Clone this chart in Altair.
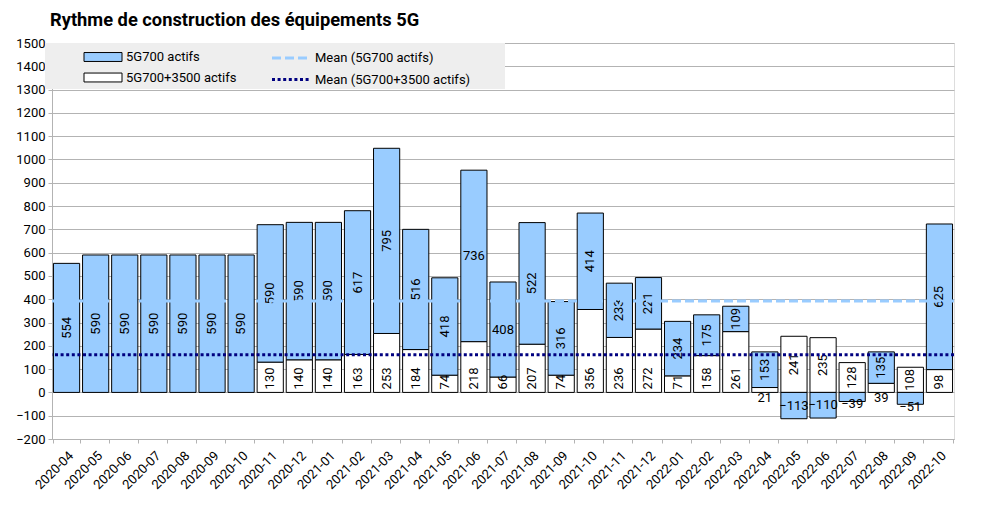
import altair as alt
import pandas as pd

# ---------------- data ----------------
months = [
    "2020-04", "2020-05", "2020-06", "2020-07", "2020-08", "2020-09", "2020-10",
    "2020-11", "2020-12", "2021-01", "2021-02", "2021-03", "2021-04", "2021-05",
    "2021-06", "2021-07", "2021-08", "2021-09", "2021-10", "2021-11", "2021-12",
    "2022-01", "2022-02", "2022-03", "2022-04", "2022-05", "2022-06", "2022-07",
    "2022-08", "2022-09", "2022-10",
]
actifs_5g700 = [
    554, 590, 590, 590, 590, 590, 590,
    590, 590, 590, 617, 795, 516, 418,
    736, 408, 522, 316, 414, 233, 221,
    234, 175, 109, 153, -113, -110, -39,
    135, -51, 625,
]
actifs_5g700_3500 = [
    None, None, None, None, None, None, None,
    130, 140, 140, 163, 253, 184, 74,
    218, 66, 207, 74, 356, 236, 272,
    71, 158, 261, 21, 241, 235, 128,
    39, 108, 98,
]
y_ticks = list(range(-200, 1501, 100))

S700 = "5G700 actifs"
S3500 = "5G700+3500 actifs"
M700 = "Mean (5G700 actifs)"
M3500 = "Mean (5G700+3500 actifs)"

# months whose blue label is written horizontally in the reference
HORIZONTAL = {"2021-06", "2021-07"}

# ---------------- tables ----------------
wide = pd.DataFrame({"month": months, "v700": actifs_5g700, "v3500": actifs_5g700_3500})

rows = []
for m, b, w in zip(months, actifs_5g700, actifs_5g700_3500):
    base = 0 if w is None else w
    if w is not None:
        if b < 0:
            mode = "rot_mid"
        elif w < 50:
            mode = "below0"
        else:
            mode = "rot_bottom"
        rows.append(dict(month=m, series=S3500, value=w, lo=0, hi=w, mode=mode))
    if b >= 0:
        lo, hi = base, base + b
        mode = "horiz" if m in HORIZONTAL else "rot_mid"
    else:
        lo, hi = 0, b
        mode = "horiz" if b <= -100 else "below_neg"
    rows.append(dict(month=m, series=S700, value=b, lo=lo, hi=hi, mode=mode))
bars_df = pd.DataFrame(rows)
bars_df["mid"] = (bars_df["lo"] + bars_df["hi"]) / 2

FONT = "Roboto"

x_axis = alt.Axis(
    title=None, labelAngle=-45, labelAlign="right", labelBaseline="top",
    labelFontSize=13, labelFont=FONT, labelColor="black", labelPadding=6,
    tickBand="extent", tickSize=4, tickColor="#b3b3b3", domainColor="#b3b3b3",
    grid=False, labelOverlap=False,
)
x_scale = alt.Scale(paddingInner=0.1, paddingOuter=0.05)
y_scale = alt.Scale(domain=[-200, 1500], nice=False, zero=False)
y_axis = alt.Axis(
    title=None, values=y_ticks, format="d", labelOverlap=False, labelFlush=False,
    labelFontSize=13, labelFont=FONT, labelColor="black",
    tickSize=4, tickColor="#b3b3b3", domainColor="#b3b3b3", gridColor="#b3b3b3",
    labelPadding=3, grid=True,
)


def X():
    return alt.X("month:N", sort=months, scale=x_scale, axis=x_axis)


def Y(field):
    return alt.Y(field, scale=y_scale, axis=y_axis)


base = alt.Chart(bars_df)

bars = base.mark_bar(stroke="black", strokeWidth=1).encode(
    x=X(),
    y=Y("lo:Q"),
    y2="hi:Q",
    fill=alt.Fill(
        "series:N",
        scale=alt.Scale(domain=[S700, S3500], range=["#99ccff", "#ffffff"]),
        legend=alt.Legend(
            orient="none", legendX=-7, legendY=0, direction="vertical",
            symbolType="M-2,-0.47H2V0.47H-2Z", symbolSize=361,
            symbolStrokeColor="black", symbolStrokeWidth=1, symbolOffset=44,
            labelFontSize=13, labelFont=FONT, labelColor="black", labelOffset=13,
            padding=4, rowPadding=3.5, fillColor="#eeeeee",
            title=".", titleOrient="right", titleColor="#eeeeee", titlePadding=262,
            titleFontSize=8, zindex=1,
        ),
    ),
    order=alt.Order("series:N", sort="descending"),
)

txt_props = dict(fontSize=13, font=FONT, color="black")

lab_rot_mid = base.transform_filter(alt.datum.mode == "rot_mid").mark_text(
    angle=270, align="center", baseline="middle", **txt_props
).encode(x=X(), y=Y("mid:Q"), text=alt.Text("value:Q", format="d"))

lab_rot_bottom = base.transform_filter(alt.datum.mode == "rot_bottom").mark_text(
    angle=270, align="left", baseline="middle", yOffset=-3, **txt_props
).encode(x=X(), y=Y("lo:Q"), text=alt.Text("value:Q", format="d"))

lab_horiz = base.transform_filter(alt.datum.mode == "horiz").mark_text(
    align="center", baseline="middle", **txt_props
).encode(x=X(), y=Y("mid:Q"), text=alt.Text("value:Q", format="d"))

lab_below_neg = base.transform_filter(alt.datum.mode == "below_neg").mark_text(
    align="center", baseline="middle", yOffset=3, **txt_props
).encode(x=X(), y=Y("hi:Q"), text=alt.Text("value:Q", format="d"))

lab_below0 = base.transform_filter(alt.datum.mode == "below0").mark_text(
    align="center", baseline="middle", yOffset=6, **txt_props
).encode(x=X(), y=Y("lo:Q"), text=alt.Text("value:Q", format="d"))

mean_legend = alt.Legend(
    orient="none", legendX=212, legendY=0, direction="vertical",
    symbolType="M-2,0H2", symbolSize=361, symbolStrokeWidth=3, symbolOffset=12,
    labelFontSize=13, labelFont=FONT, labelColor="black", labelOffset=13,
    padding=4, rowPadding=3.5, title=None, zindex=2,
)

means = alt.Chart(wide).transform_aggregate(
    **{M700: "mean(v700)", M3500: "mean(v3500)"}
).transform_fold([M700, M3500], as_=["key", "mean_value"]).mark_rule(strokeWidth=3).encode(
    y=Y("mean_value:Q"),
    stroke=alt.Stroke(
        "key:N",
        scale=alt.Scale(domain=[M700, M3500], range=["#99ccff", "#000080"]),
        legend=mean_legend,
    ),
    strokeDash=alt.StrokeDash(
        "key:N",
        scale=alt.Scale(domain=[M700, M3500], range=[[9, 4], [3, 2.6]]),
        legend=mean_legend,
    ),
)

chart = alt.layer(
    bars, lab_rot_mid, lab_rot_bottom, lab_horiz, lab_below_neg, lab_below0, means
).resolve_scale(
    fill="independent", stroke="independent", strokeDash="independent"
).properties(
    width=902,
    height=396,
    autosize=alt.AutoSizeParams(type="none"),
    padding={"left": 44, "top": 35, "right": 23, "bottom": 60},
    title=alt.TitleParams(
        "Rythme de construction des équipements 5G",
        anchor="start", frame="group", fontSize=18.3, fontWeight="bold",
        font=FONT, color="black", offset=16, baseline="alphabetic", dx=-2, dy=23,
    ),
).configure_view(stroke="#b3b3b3", strokeWidth=1).configure(background="white")

chart.save("out.html", embed_options={"renderer": "svg", "actions": False})
